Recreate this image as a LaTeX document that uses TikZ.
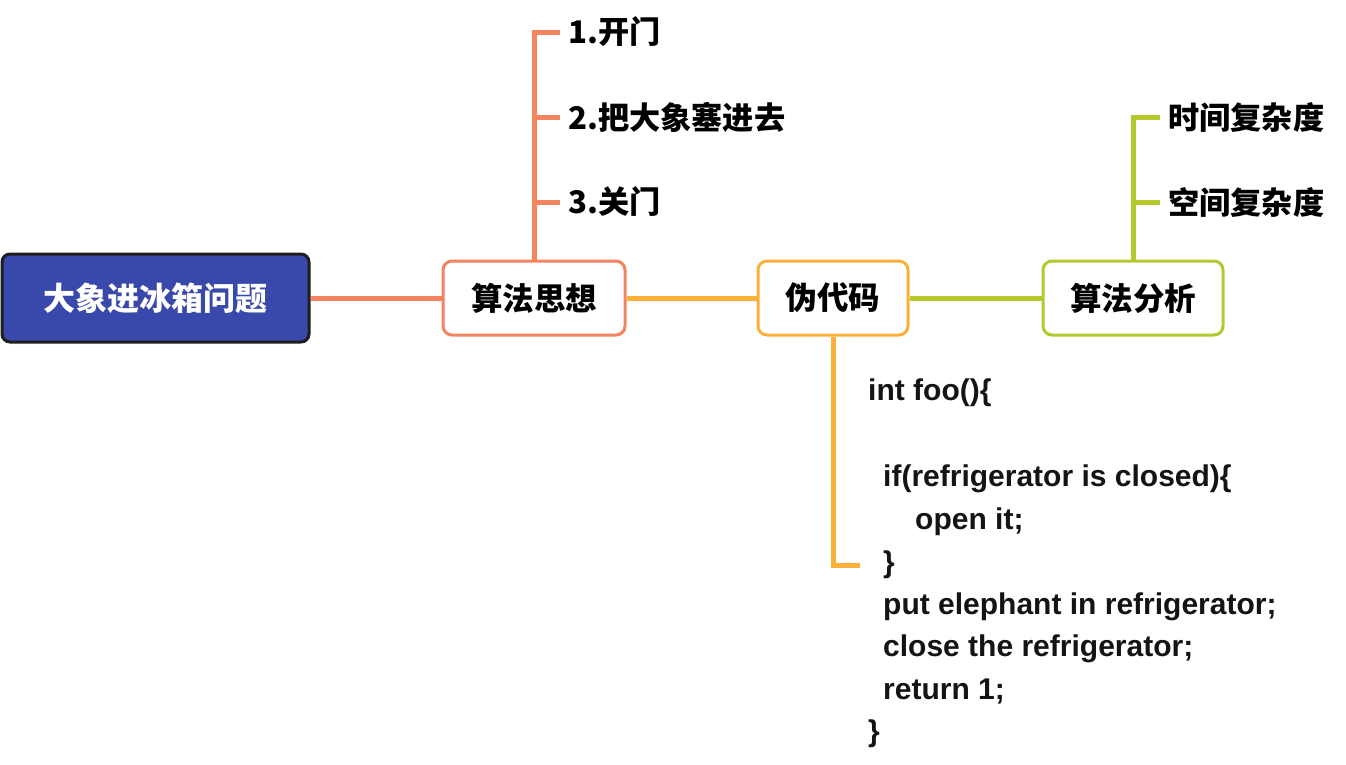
\documentclass[tikz,border=0pt]{standalone}
\usepackage{fontspec}
\setmainfont{Noto Sans CJK SC}
\newfontfamily\codefont{Liberation Sans}
\definecolor{rootblue}{HTML}{3949AB}
\definecolor{rootborder}{HTML}{1E1E1E}
\definecolor{coral}{HTML}{F4845F}
\definecolor{amber}{HTML}{FBB03B}
\definecolor{lime}{HTML}{B5C92E}
\tikzset{
  root/.style={draw=rootborder, line width=3pt, fill=rootblue, rounded corners=8pt,
    text=white, font=\fontsize{32}{36}\selectfont\bfseries,
    minimum width=307pt, minimum height=88pt, inner sep=0pt},
  topic/.style={draw=#1, line width=3pt, fill=white, rounded corners=9pt,
    font=\fontsize{31.5}{36}\selectfont\bfseries, minimum height=74pt, inner sep=0pt},
  leaf/.style={anchor=west, inner xsep=8pt, inner ysep=0pt,
    font=\fontsize{31.2}{36}\selectfont\bfseries},
  code/.style={anchor=base west, inner sep=0pt,
    font=\codefont\fontsize{30}{34}\selectfont\bfseries, text=black!92},
  link/.style={draw=#1, line width=5pt},
}
\begin{document}
\begin{tikzpicture}[x=1pt,y=-1pt]
\useasboundingbox (0,0) rectangle (1346,764);
% nodes
\node[root] (root) at (155.5,298) {大象进冰箱问题};
\node[topic=coral, minimum width=182pt] (idea) at (534,298) {算法思想};
\node[topic=amber, minimum width=150pt] (pseudo) at (833,298) {伪代码};
\node[topic=lime, minimum width=180pt] (ana) at (1133,298) {算法分析};
% idea leaves
\node[leaf] (s1) at (560,32) {1.开门};
\node[leaf] (s2) at (560,117) {2.把大象塞进去};
\node[leaf] (s3) at (560,202) {3.关门};
% analysis leaves
\node[leaf] (a1) at (1160,117) {时间复杂度};
\node[leaf] (a2) at (1160,202) {空间复杂度};
% code
\node[code] (c1) at (868,400) {int foo()\{};
\node[code] (c2) at (883,486) {if(refrigerator is closed)\{};
\node[code] (c3) at (915,529) {open it;};
\node[code] (c4) at (883,572) {\}};
\node[code] (c5) at (883,614) {put elephant in refrigerator;};
\node[code] (c6) at (883,656) {close the refrigerator;};
\node[code] (c7) at (883,699) {return 1;};
\node[code] (c8) at (868,741) {\}};
\coordinate (codeend) at (860,565);
% connectors
\path[link=coral] (root.east) -- (idea.west);
\path[link=amber] (idea.east) -- (pseudo.west);
\path[link=lime] (pseudo.east) -- (ana.west);
\path[link=coral] (idea.north) |- (s1.west);
\path[link=coral] (idea.north) |- (s2.west);
\path[link=coral] (idea.north) |- (s3.west);
\path[link=lime] (ana.north) |- (a1.west);
\path[link=lime] (ana.north) |- (a2.west);
\path[link=amber] (pseudo.south) |- (codeend);
\end{tikzpicture}
\end{document}
